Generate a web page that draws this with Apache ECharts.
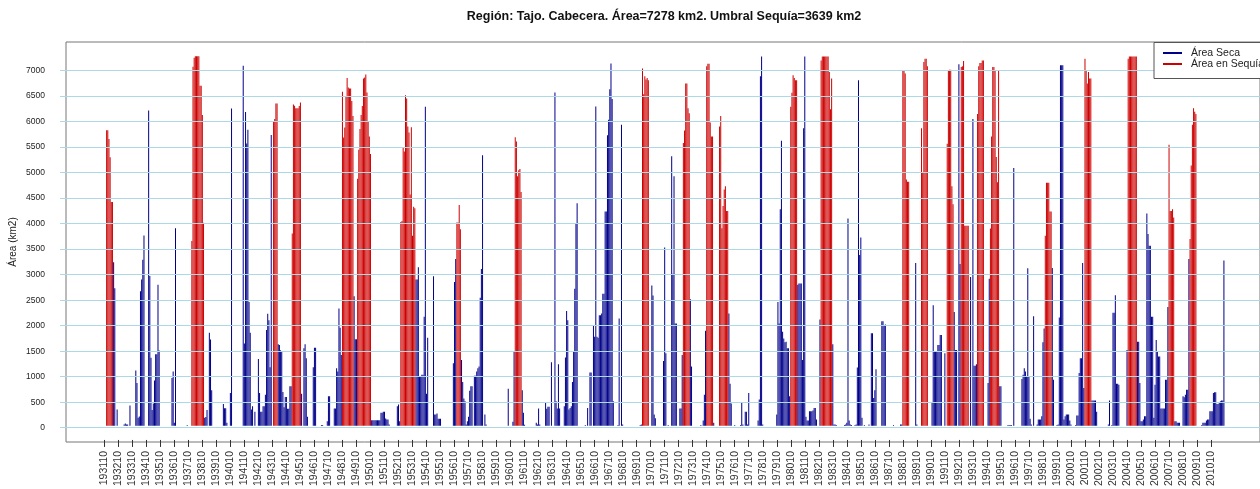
<!DOCTYPE html>
<html>
<head>
<meta charset="utf-8">
<script src="https://cdn.jsdelivr.net/npm/echarts@6/dist/echarts.min.js"></script>
<style>
  html, body { margin: 0; padding: 0; background: #fff; }
  #chart { width: 1260px; height: 489px; }
</style>
</head>
<body>
<div id="chart"></div>
<script>
// Área seca mensual (km2), Tajo cabecera.
// Una fila = un año hidrológico (oct..sep), desde 1931-32 hasta 2010-11.
const inicio = { year: 1931, month: 10 };

const areaMensual = [
  0, 0, 5820, 5820, 5650, 5290, 4410, 4410, 3220, 2710, 0, 320,
  0, 0, 0, 0, 0, 26, 45, 26, 26, 0, 400, 0,
  0, 0, 0, 1090, 840, 160, 180, 2650, 2880, 3270, 3750, 0,
  0, 0, 6210, 2950, 1340, 310, 440, 890, 1410, 1410, 2780, 1480,
  0, 0, 0, 0, 0, 0, 0, 0, 0, 0, 940, 1070,
  60, 3890, 0, 0, 0, 0, 0, 0, 0, 0, 0, 13,
  0, 0, 0, 3640, 7070, 7250, 7278, 7278, 7278, 7278, 6700, 6700,
  6120, 4000, 160, 170, 310, 0, 1830, 1700, 700, 0, 0, 0,
  0, 0, 0, 0, 0, 0, 430, 345, 345, 60, 0, 0,
  645, 6250, 0, 0, 0, 0, 0, 0, 0, 0, 0, 7090,
  1620, 6180, 5560, 5830, 2440, 1830, 320, 385, 0, 275, 0, 0,
  1317, 645, 274, 274, 385, 385, 613, 1884, 2204, 2080, 1154, 5730,
  0, 5985, 6044, 6350, 6350, 1604, 1590, 1487, 1460, 665, 365, 567,
  567, 333, 333, 776, 776, 3788, 6331, 6305, 6253, 6253, 6253, 6300,
  6370, 632, 0, 1526, 1604, 1330, 176, 0, 0, 0, 0, 1154,
  1539, 1539, 0, 0, 0, 0, 13, 13, 0, 0, 0, 91,
  580, 580, 0, 0, 0, 339, 339, 1134, 1069, 2308, 1930, 1395,
  6578, 5679, 5874, 6493, 6852, 6663, 6644, 6644, 6400, 6103, 2549, 1702,
  1702, 4864, 5438, 5848, 6122, 6298, 6840, 6859, 6918, 6566, 6000, 5700,
  5353, 110, 110, 110, 110, 110, 110, 110, 110, 254, 254, 274,
  274, 143, 124, 124, 26, 0, 0, 0, 0, 0, 0, 385,
  417, 91, 4016, 4036, 5490, 5405, 6513, 6448, 5894, 5777, 4557, 5881,
  3743, 4316, 4284, 2882, 2882, 3123, 958, 971, 1004, 1004, 2145, 6285,
  632, 1734, 0, 0, 0, 0, 2947, 222, 222, 241, 137, 137,
  137, 0, 0, 0, 0, 0, 0, 0, 0, 0, 0, 1232,
  2830, 3286, 4003, 4003, 4349, 3873, 1297, 860, 535, 482, 26, 91,
  176, 691, 776, 776, 0, 985, 985, 1069, 1134, 1167, 2523, 3090,
  5327, 0, 222, 26, 0, 0, 0, 0, 0, 0, 0, 0,
  0, 0, 0, 0, 0, 0, 0, 0, 0, 0, 730, 0,
  0, 0, 78, 1460, 5685, 5601, 4916, 5033, 5060, 4603, 698, 254,
  20, 0, 0, 0, 0, 0, 0, 0, 0, 0, 59, 26,
  339, 26, 0, 0, 0, 0, 450, 333, 372, 372, 0, 1252,
  0, 0, 6566, 482, 339, 1213, 339, 0, 0, 0, 385, 1343,
  2263, 2080, 320, 352, 385, 860, 1474, 2700, 3973, 4382, 0, 0,
  0, 0, 0, 0, 13, 0, 352, 0, 1050, 1050, 0, 1983,
  1754, 6290, 1754, 1734, 2178, 2178, 2211, 2600, 2600, 4220, 4220, 5721,
  6027, 6631, 7137, 6439, 482, 0, 0, 0, 13, 2113, 0, 5928,
  26, 0, 0, 0, 0, 0, 0, 0, 0, 0, 0, 0,
  0, 0, 0, 13, 26, 7037, 6533, 6885, 6820, 6850, 6807, 0,
  0, 2764, 2568, 222, 150, 0, 0, 0, 0, 0, 0, 1278,
  3514, 1428, 0, 13, 0, 0, 5307, 2993, 4916, 2015, 2015, 0,
  0, 339, 339, 1395, 5568, 5816, 6741, 6741, 6253, 6155, 2490, 1167,
  0, 0, 0, 0, 0, 0, 0, 13, 0, 104, 613, 1871,
  7081, 7133, 7133, 5972, 5698, 5698, 59, 0, 0, 0, 0, 5894,
  6103, 3892, 4329, 4655, 4720, 4231, 4231, 2211, 828, 437, 0, 0,
  13, 0, 0, 0, 0, 13, 450, 26, 0, 274, 274, 26,
  645, 0, 0, 0, 0, 0, 0, 0, 104, 515, 6885, 7276,
  26, 0, 0, 0, 0, 0, 0, 0, 0, 0, 0, 0,
  222, 2438, 2015, 4264, 5614, 1852, 1721, 1643, 1656, 1526, 1526, 580,
  6285, 6559, 6905, 6850, 6807, 6807, 2777, 2800, 2800, 2800, 1297, 5862,
  7276, 176, 104, 104, 287, 287, 287, 300, 352, 352, 124, 0,
  0, 2094, 7198, 7276, 7276, 7276, 7276, 7276, 7276, 6970, 6236, 6840,
  1604, 26, 26, 13, 0, 0, 0, 0, 0, 0, 13, 26,
  59, 4081, 104, 26, 13, 0, 0, 13, 26, 1148, 6807, 3364,
  3710, 157, 0, 13, 0, 0, 0, 26, 0, 1820, 1820, 548,
  698, 1115, 0, 0, 0, 0, 2061, 2061, 1969, 1995, 0, 0,
  0, 0, 0, 0, 13, 0, 0, 0, 0, 0, 26, 26,
  7002, 7002, 6937, 4851, 4805, 4805, 0, 0, 0, 0, 0, 3208,
  26, 0, 0, 0, 5862, 4981, 7165, 7230, 7230, 7081, 0, 0,
  0, 450, 2373, 1474, 1460, 1460, 1591, 1591, 1787, 1787, 0, 0,
  1428, 0, 5555, 6989, 7015, 7015, 4720, 4362, 2243, 1493, 1493, 0,
  7120, 3188, 7068, 7081, 7185, 3938, 3938, 3938, 3938, 0, 2928, 0,
  6044, 1180, 1180, 1213, 6143, 7081, 7146, 7146, 7198, 7198, 0, 0,
  0, 841, 2894, 3886, 5698, 7068, 7068, 7002, 5294, 4799, 6989, 776,
  776, 0, 0, 0, 0, 0, 13, 13, 13, 13, 0, 5079,
  0, 0, 0, 0, 0, 0, 919, 1004, 1134, 1069, 971, 3103,
  971, 137, 26, 0, 2158, 0, 0, 26, 124, 124, 124, 189,
  1643, 1917, 3743, 4786, 4786, 4786, 4220, 4220, 3110, 906, 0, 0,
  13, 26, 2132, 7101, 7101, 7101, 124, 189, 222, 222, 222, 104,
  26, 0, 0, 0, 13, 202, 202, 1037, 1330, 1330, 3208, 743,
  7230, 6989, 6741, 6970, 6840, 6840, 496, 496, 496, 496, 274, 0,
  0, 0, 0, 0, 0, 0, 0, 0, 26, 496, 0, 13,
  2224, 2224, 2570, 828, 828, 808, 0, 0, 0, 0, 0, 0,
  1493, 7230, 7276, 7276, 7276, 7276, 7276, 7276, 7276, 1656, 1656, 841,
  91, 91, 124, 189, 189, 4180, 3776, 3547, 3547, 2145, 2145, 157,
  808, 1689, 1474, 1363, 1363, 339, 339, 339, 339, 906, 906, 2341,
  5536, 4232, 4232, 4264, 4101, 91, 91, 59, 59, 59, 0, 0,
  580, 561, 613, 711, 711, 3286, 3678, 5125, 5928, 6253, 6188, 6143,
  0, 0, 0, 0, 13, 59, 59, 59, 104, 124, 124, 287,
  287, 287, 645, 658, 658, 430, 430, 450, 482, 496, 496, 3254,
];

// Episodios de sequía declarada: [primer mes, último mes]
const periodosSequia = [
  ['193112', '193205'], ['193801', '193811'], ['194311', '194402'],
  ['194503', '194510'], ['194810', '194907'], ['194911', '195010'],
  ['195212', '195312'], ['195612', '195703'], ['196102', '196107'],
  ['197003', '197008'], ['197302', '197307'], ['197410', '197503'],
  ['197509', '197604'], ['198010', '198103'], ['198212', '198309'],
  ['198810', '198903'], ['199002', '199007'], ['199112', '199205'],
  ['199212', '199306'], ['199402', '199407'], ['199501', '199508'],
  ['199812', '199905'], ['200110', '200203'], ['200411', '200506'],
  ['200710', '200802'], ['200904', '200909'],
];

const yTicks = { min: 0, max: 7500, step: 500 };
const nombres = { seca: 'Área Seca', sequia: 'Área en Sequía' };
const colores = { seca: '#00008b', sequia: '#cd0000', grid: '#add8e6' };
const FONT = '"Liberation Sans", Arial, sans-serif';

function etiquetasMeses(n) {
  const out = [];
  let y = inicio.year, m = inicio.month;
  for (let i = 0; i < n; i++) {
    out.push(String(y) + String(m).padStart(2, '0'));
    m++;
    if (m > 12) { m = 1; y++; }
  }
  return out;
}

const meses = etiquetasMeses(areaMensual.length);
const enSequia = meses.map(c => periodosSequia.some(([a, b]) => c >= a && c <= b));
const serieSeca = areaMensual.map((v, i) => enSequia[i] ? '-' : v);
const serieSequia = areaMensual.map((v, i) => enSequia[i] ? v : '-');

// caja del gráfico (como en R): 60..1269 x 42..442, rango y -280..7560 (0 en y=427.7)
const box = { left: 60, top: 42, width: 1209, height: 400, yMin: -280, yMax: 7560 };
const pxPorKm2 = box.height / (box.yMax - box.yMin);
const lineasTop = box.top + (box.yMax - yTicks.max) * pxPorKm2;
const lineasH = (yTicks.max - yTicks.min) * pxPorKm2;

const chart = echarts.init(document.getElementById('chart'));

chart.setOption({
  animation: false,
  textStyle: { fontFamily: FONT },
  title: {
    text: 'Región: Tajo. Cabecera. Área=7278 km2. Umbral Sequía=3639 km2',
    left: 664, top: 10, padding: 0, textAlign: 'center',
    textStyle: { fontFamily: FONT, fontSize: 12.5, fontWeight: 'bold', color: '#111' },
  },
  legend: {
    orient: 'vertical', left: 1154, top: 42.5,
    selectedMode: false,
    data: [{ name: nombres.seca, icon: 'rect' }, { name: nombres.sequia, icon: 'rect' }],
    itemWidth: 19, itemHeight: 2, itemGap: 0,
    padding: [5, 9, 9, 9],
    backgroundColor: '#fff', borderColor: '#555', borderWidth: 1, borderRadius: 0,
    textStyle: { fontFamily: FONT, fontSize: 10.5, color: '#222', lineHeight: 11, padding: [0, 0, 0, 4] },
  },
  grid: [
    // marco
    { left: box.left, top: box.top, width: box.width, height: box.height, show: true,
      borderColor: '#777', borderWidth: 1, backgroundColor: 'transparent' },
    // líneas horizontales y etiquetas del eje Y
    { left: box.left, top: lineasTop, width: box.width, height: lineasH },
    // barras
    { left: 103.7, top: box.top, width: 1120.8, height: box.height },
  ],
  xAxis: [
    { gridIndex: 0, type: 'value', show: false, min: 0, max: 1 },
    { gridIndex: 1, type: 'value', show: false, min: 0, max: 1 },
    {
      gridIndex: 2, type: 'category', data: meses, position: 'bottom',
      boundaryGap: true,
      axisLine: { show: false, onZero: false },
      axisTick: { show: true, interval: 11, alignWithLabel: true, length: 7, lineStyle: { color: '#333' } },
      axisLabel: { interval: 11, rotate: 90, margin: 11, fontSize: 10.5, color: '#333', fontFamily: FONT },
      splitLine: { show: false },
    },
  ],
  yAxis: [
    {
      gridIndex: 0, type: 'value', min: 0, max: 1,
      name: 'Área (km2)', nameLocation: 'middle', nameRotate: 90, nameGap: 48,
      nameTextStyle: { fontFamily: FONT, fontSize: 10, color: '#222' },
      axisLine: { show: false }, axisTick: { show: false }, axisLabel: { show: false }, splitLine: { show: false },
    },
    {
      gridIndex: 1, type: 'value', min: yTicks.min, max: yTicks.max, interval: yTicks.step,
      z: 3,
      axisLine: { show: false }, axisTick: { show: false },
      axisLabel: { showMaxLabel: false, margin: 15, fontSize: 8.5, color: '#222', fontFamily: FONT,
        formatter: v => String(v) },
      splitLine: { show: true, showMaxLine: false, lineStyle: { color: colores.grid, width: 1.2 } },
    },
    { gridIndex: 2, type: 'value', min: box.yMin, max: box.yMax, show: false },
  ],
  series: [
    {
      name: nombres.seca, type: 'bar', xAxisIndex: 2, yAxisIndex: 2,
      data: serieSeca, barWidth: 0.95, barGap: '-100%',
      itemStyle: { color: colores.seca },
    },
    {
      name: nombres.sequia, type: 'bar', xAxisIndex: 2, yAxisIndex: 2,
      data: serieSequia, barWidth: 0.95, barGap: '-100%',
      itemStyle: { color: colores.sequia },
    },
  ],
});
</script>
</body>
</html>
